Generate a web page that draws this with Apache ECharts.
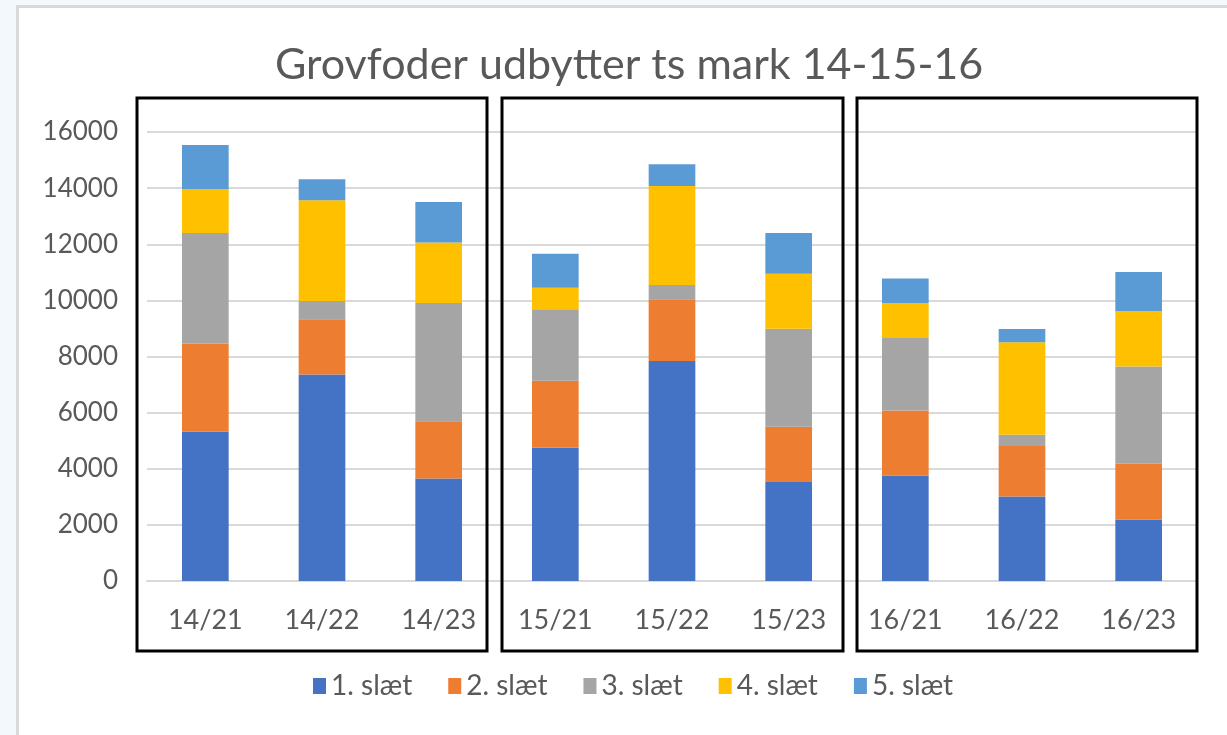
<!DOCTYPE html>
<html>
<head>
<meta charset="utf-8">
<script src="https://cdn.jsdelivr.net/npm/echarts@6/dist/echarts.min.js"></script>
<style>
html,body{margin:0;padding:0;width:1227px;height:735px;overflow:hidden;background:#f3f8fc;}
#card{position:absolute;left:16px;top:5px;width:1220px;height:740px;background:#fff;border:3px solid #d9d9d9;box-sizing:border-box;}
#chart{position:absolute;left:0;top:0;width:1227px;height:735px;}
</style>
</head>
<body>
<div id="card"></div>
<div id="chart"></div>
<script>
const categories = ['14/21','14/22','14/23','15/21','15/22','15/23','16/21','16/22','16/23'];
const seriesNames = ['1. slæt','2. slæt','3. slæt','4. slæt','5. slæt'];
const slaet1 = [5330, 7360, 3650, 4750, 7840, 3530, 3760, 3010, 2190];
const slaet2 = [3130, 1970, 2040, 2390, 2200, 1970, 2320, 1800, 1990];
const slaet3 = [3940, 650, 4220, 2540, 510, 3490, 2610, 400, 3460];
const slaet4 = [1570, 3590, 2150, 770, 3530, 1960, 1210, 3300, 1970];
const slaet5 = [1570, 750, 1450, 1210, 770, 1450, 880, 470, 1400];
const yTicks = [0, 2000, 4000, 6000, 8000, 10000, 12000, 14000, 16000];

const colors = ['#4472c4','#ed7d31','#a5a5a5','#ffc000','#5b9bd5'];
const allData = [slaet1, slaet2, slaet3, slaet4, slaet5];
const font = 'Lato, "Open Sans", sans-serif';

const chart = echarts.init(document.getElementById('chart'), null, {renderer:'canvas'});
chart.setOption({
  animation: false,
  backgroundColor: 'transparent',
  color: colors,
  title: {
    text: 'Grovfoder udbytter ts mark 14-15-16',
    left: 270, top: 39,
    textStyle: {fontFamily: font, fontSize: 43, fontWeight: 'normal', color: '#595959'}
  },
  legend: {
    bottom: 30, left: 308,
    itemWidth: 13, itemHeight: 16, itemGap: 36,
    icon: 'rect',
    textStyle: {fontFamily: font, fontSize: 28, color: '#595959'},
    data: seriesNames
  },
  grid: {left: 147, right: 30, top: 132, bottom: 154, containLabel: false},
  xAxis: {
    type: 'category', data: categories,
    axisLine: {show: true, lineStyle: {color: '#d9d9d9', width: 2}},
    axisTick: {show: false},
    axisLabel: {fontFamily: font, fontSize: 27, color: '#595959', margin: 26}
  },
  yAxis: {
    type: 'value', min: yTicks[0], max: yTicks[yTicks.length-1], interval: 2000,
    axisLine: {show: false}, axisTick: {show: false},
    splitLine: {lineStyle: {color: '#d9d9d9', width: 2}},
    axisLabel: {fontFamily: font, fontSize: 26, color: '#595959', margin: 29, formatter: v => String(v)}
  },
  series: seriesNames.map((n, i) => ({
    name: n, type: 'bar', stack: 'total', data: allData[i],
    barWidth: '40%',
    itemStyle: {color: colors[i]}
  })),
  graphic: [
    {type:'rect', shape:{x:137, y:98, width:350, height:553}, style:{fill:'none', stroke:'#000', lineWidth:3}, z:100},
    {type:'rect', shape:{x:502, y:98, width:341, height:553}, style:{fill:'none', stroke:'#000', lineWidth:3}, z:100},
    {type:'rect', shape:{x:857, y:98, width:340, height:553}, style:{fill:'none', stroke:'#000', lineWidth:3}, z:100}
  ]
});
</script>
</body>
</html>
